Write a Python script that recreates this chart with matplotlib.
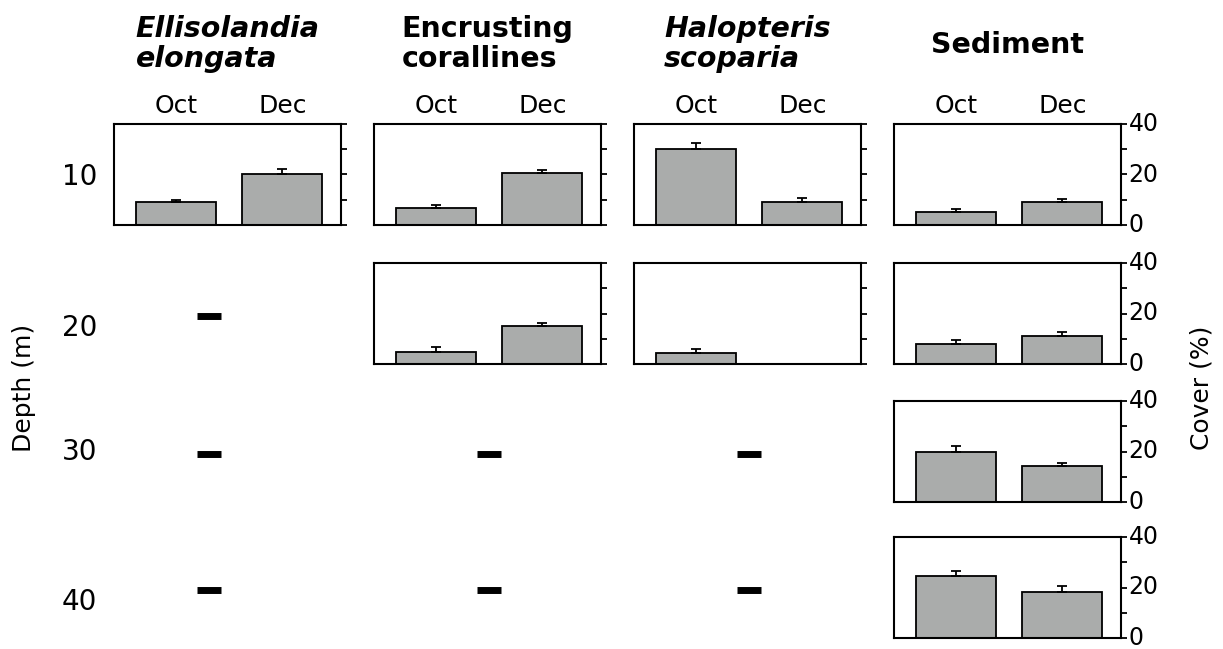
import numpy as np
import matplotlib
matplotlib.use('Agg')
import matplotlib.pyplot as plt

species = ['Ellisolandia\nelongata', 'Encrusting\ncorallines', 'Halopteris\nscoparia', 'Sediment']
species_italic = [True, False, True, False]
depths = [10, 20, 30, 40]
months = ['Oct', 'Dec']

ellisolandia_mean = [(9.0, 20.0), None, None, None]
ellisolandia_err = [(1.0, 2.0), None, None, None]
corallines_mean = [(6.7, 20.5), (4.8, 15.0), None, None]
corallines_err = [(1.2, 1.2), (2.1, 1.3), None, None]
halopteris_mean = [(30.0, 9.0), (4.5, 0.0), None, None]
halopteris_err = [(2.4, 1.5), (1.3, 0.0), None, None]
sediment_mean = [(5.0, 9.0), (7.9, 11.0), (20.0, 14.2), (24.6, 18.2)]
sediment_err = [(1.3, 1.3), (1.8, 1.8), (2.0, 1.4), (2.0, 2.4)]

means = [ellisolandia_mean, corallines_mean, halopteris_mean, sediment_mean]
errs = [ellisolandia_err, corallines_err, halopteris_err, sediment_err]

cover_ticks = [0, 10, 20, 30, 40]
cover_labels = ['0', '', '20', '', '40']

# layout (pixels of a 1223x649 canvas)
W, H = 1223, 649
col_left = [114, 374, 634, 894]
row_top = [124, 263, 401, 537]
panel_w, panel_h = 227, 101
depth_label_y = [177, 328, 452, 602]
bar_color = '#aaacab'


def rect(left, top, w, h):
    return [left / W, 1 - (top + h) / H, w / W, h / H]


fig = plt.figure(figsize=(W / 100, H / 100), dpi=100)
x = np.arange(len(months))

for c in range(len(species)):
    for r in range(len(depths)):
        ax = fig.add_axes(rect(col_left[c], row_top[r], panel_w, panel_h))
        ax.set_xlim(-0.58, 1.55)
        ax.set_ylim(0, 40)
        m = means[c][r]
        if m is None:
            # not sampled: short black dash
            ax.axis('off')
            ax.plot([0.5 if c else 0.31], [19], marker='_', color='black',
                    markersize=17, markeredgewidth=5)
            continue
        m = np.array(m)
        e = np.array(errs[c][r])
        keep = m > 0
        ax.bar(x[keep], m[keep], width=0.75, color=bar_color,
               edgecolor='black', linewidth=1.3, zorder=2)
        ax.errorbar(x[keep], m[keep], yerr=[np.zeros(keep.sum()), e[keep]],
                    fmt='none', ecolor='black', elinewidth=1.3, capsize=3.6,
                    capthick=1.3, zorder=3)
        for s in ax.spines.values():
            s.set_linewidth(1.5)
        ax.yaxis.tick_right()
        ax.set_yticks(cover_ticks)
        ax.tick_params(axis='y', direction='out', length=4.5, width=1.3,
                       pad=1, labelsize=17, right=True, left=False)
        if c == len(species) - 1:
            ax.set_yticklabels(cover_labels)
            for lab in ax.get_yticklabels():
                lab.set_verticalalignment('center')
        else:
            ax.set_yticklabels([])
        if r == 0:
            ax.set_xticks(x)
            ax.set_xticklabels(months)
            ax.tick_params(axis='x', top=True, labeltop=True, bottom=False,
                           labelbottom=False, length=0, pad=4, labelsize=18)
        else:
            ax.set_xticks([])

# column titles
for c, name in enumerate(species):
    cx = (col_left[c] + panel_w / 2) / W
    if '\n' in name:
        fig.text(cx, 1 - 44 / H, name, ha='center', va='center',
                 multialignment='left', fontsize=20.5, fontweight='bold',
                 fontstyle='italic' if species_italic[c] else 'normal',
                 linespacing=1.05)
    else:
        fig.text(cx, 1 - 45 / H, name, ha='center', va='center',
                 fontsize=20.5, fontweight='bold')

# depth labels
for d, yy in zip(depths, depth_label_y):
    fig.text(97 / W, 1 - yy / H, str(d), ha='right', va='center', fontsize=20)

fig.text(24 / W, 1 - 388 / H, 'Depth (m)', rotation=90, ha='center',
         va='center', fontsize=18)
fig.text(1201 / W, 1 - 388 / H, 'Cover (%)', rotation=90, ha='center',
         va='center', fontsize=18)

fig.savefig('out.png', dpi=100)
